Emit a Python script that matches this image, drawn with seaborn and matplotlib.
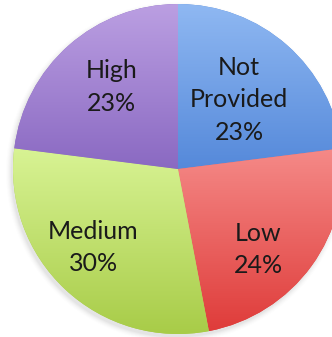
import numpy as np
import matplotlib
matplotlib.use("Agg")
import matplotlib.pyplot as plt
import seaborn as sns
from matplotlib.colors import to_rgb

sns.set_theme(style="white")
plt.rcParams["font.family"] = ["Lato", "DejaVu Sans"]

# Category shares (percent), drawn clockwise from 12 o'clock
categories = ["Not Provided", "Low", "Medium", "High"]
shares = [23, 24, 30, 23]
label_lines = ["Not\nProvided", "Low", "Medium", "High"]

# Light (top) and dark (bottom) ends of each slice's vertical gradient
top_colors = ["#8fb8f2", "#f58a88", "#d8f394", "#bb9fe2"]
bottom_colors = ["#5589da", "#df3c3a", "#a8cc48", "#8a69c2"]

# Label placement: radial distance and angular nudge (degrees) per slice
label_radius = [0.56, 0.69, 0.70, 0.64]
label_nudge = [0.0, -9.0, -4.0, -2.5]

fig = plt.figure(figsize=(3.32, 3.37), dpi=100)
ax = fig.add_axes([0, 0, 1, 1])

wedges, _ = ax.pie(shares, startangle=90, counterclock=False, radius=1.0,
                   colors=bottom_colors, wedgeprops=dict(linewidth=0))

# soft drop shadow under the pie
for i, a in enumerate(np.linspace(0.10, 0.02, 6)):
    shadow = plt.Circle((-0.012, -0.02), 1.0 + 0.006 * i, color="#7a7a7a",
                        alpha=a * 0.5, zorder=0, lw=0)
    ax.add_patch(shadow)

# vertical gradient fill clipped to each wedge
for w, c_top, c_bot in zip(wedges, top_colors, bottom_colors):
    ext = w.get_path().get_extents()
    t = np.linspace(0, 1, 256)[:, None]
    ct, cb = np.array(to_rgb(c_top)), np.array(to_rgb(c_bot))
    img = (ct[None, None, :] * (1 - t[..., None]) + cb[None, None, :] * t[..., None])
    img = np.repeat(img, 2, axis=1)
    im = ax.imshow(img, extent=[ext.x0, ext.x1, ext.y0, ext.y1], origin="upper",
                   aspect="auto", zorder=2, interpolation="bilinear")
    im.set_clip_path(w)

# percentage labels inside the slices
for w, txt, share, r, nudge in zip(wedges, label_lines, shares, label_radius, label_nudge):
    mid = np.deg2rad((w.theta1 + w.theta2) / 2 + nudge)
    ax.text(r * np.cos(mid), r * np.sin(mid), f"{txt}\n{share}%",
            ha="center", va="center", fontsize=18, color="#1a1a1a",
            linespacing=1.5, zorder=3)

R = 165.0
ax.set_xlim(-178 / R, (332 - 178) / R)
ax.set_ylim(-(337 - 169) / R, 169 / R)
ax.set_aspect("equal")
ax.axis("off")

fig.savefig("out.png", dpi=100)
